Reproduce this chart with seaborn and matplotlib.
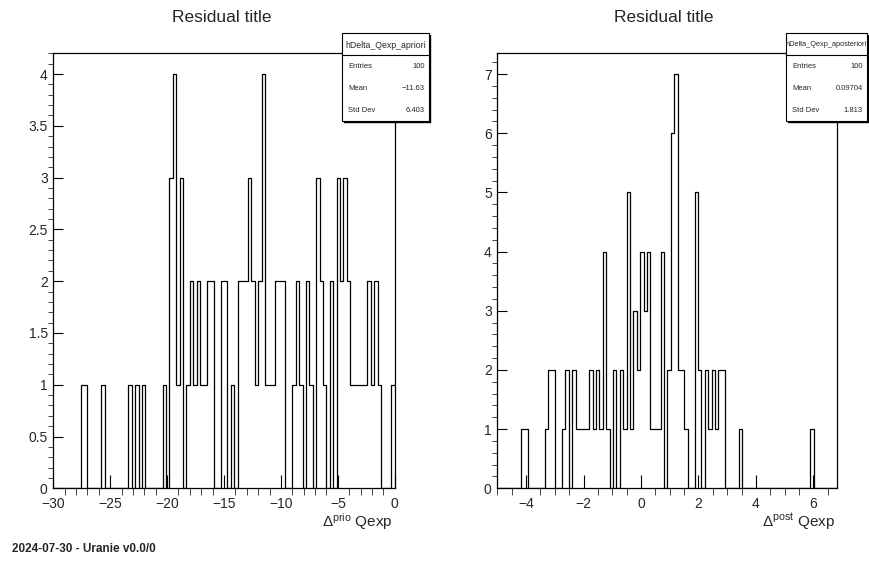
import numpy as np
import pandas as pd
import matplotlib
matplotlib.use("Agg")
import matplotlib.pyplot as plt
import seaborn as sns
from matplotlib.patches import Rectangle
from matplotlib.lines import Line2D
from matplotlib.ticker import MultipleLocator, FuncFormatter

# -------------------------------
# Data (100 bins per histogram, counts)
# -------------------------------
n_bins = 100
prio_range = (-30.0, 0.0)
post_range = (-5.0, 6.83)

prio_counts = [0, 0, 0, 0, 0, 0, 0, 0, 1, 1,
               0, 0, 0, 0, 1, 0, 0, 0, 0, 0,
               0, 0, 1, 0, 1, 0, 1, 0, 0, 0,
               0, 0, 1, 0, 3, 4, 1, 3, 0, 1,
               2, 1, 2, 1, 1, 2, 2, 0, 0, 2,
               2, 0, 1, 0, 2, 2, 2, 3, 2, 1,
               2, 4, 1, 1, 1, 2, 2, 2, 0, 0,
               1, 2, 1, 0, 2, 1, 0, 3, 2, 1,
               0, 2, 0, 3, 2, 3, 2, 1, 1, 1,
               1, 1, 2, 1, 2, 1, 0, 0, 0, 1]

post_counts = [0, 0, 0, 0, 0, 0, 0, 1, 1, 0,
               0, 0, 0, 0, 1, 2, 2, 0, 0, 1,
               2, 0, 2, 1, 1, 1, 1, 2, 1, 2,
               1, 4, 1, 0, 2, 0, 2, 1, 5, 1,
               3, 2, 4, 3, 4, 1, 1, 1, 4, 0,
               2, 6, 7, 2, 2, 1, 0, 0, 5, 2,
               0, 2, 1, 2, 1, 2, 2, 0, 0, 0,
               0, 1, 0, 0, 0, 0, 0, 0, 0, 0,
               0, 0, 0, 0, 0, 0, 0, 0, 0, 0,
               0, 0, 1, 0, 0, 0, 0, 0, 0, 0]

prio_name = "hDelta_Qexp_apriori"
post_name = "hDelta_Qexp_aposteriori"
stat_labels = ["Entries", "Mean", "Std Dev"]
prio_stats = ["100", "\u221211.63", "6.403"]
post_stats = ["100", "0.09704", "1.813"]

# -------------------------------
# Style
# -------------------------------
sns.set_style("ticks")
plt.rcParams["font.family"] = ["Liberation Sans", "DejaVu Sans"]
plt.rcParams["axes.linewidth"] = 0.9

W, H = 869, 563
fig = plt.figure(figsize=(W / 100, H / 100), dpi=100)


def fx(px):
    return px / W


def fy(py):
    return 1 - py / H


def fmt(v, pos):
    return f"{v:g}".replace("-", "\u2212")


def draw_hist(rect, counts, xr, ytop, xmaj, xmin_, ymaj, ymin_):
    x0, x1, y0, y1 = rect
    ax = fig.add_axes([fx(x0), fy(y1), fx(x1) - fx(x0), fy(y0) - fy(y1)])
    width = (xr[1] - xr[0]) / n_bins
    centers = xr[0] + width * (np.arange(n_bins) + 0.5)
    df = pd.DataFrame({"x": centers, "n": counts})
    sns.histplot(data=df, x="x", weights="n", bins=n_bins, binrange=xr,
                 element="step", fill=False, color="black", linewidth=0.9, ax=ax)
    ax.set_xlim(*xr)
    ax.set_ylim(0, ytop)
    ax.set_xlabel("")
    ax.set_ylabel("")
    ax.xaxis.set_major_locator(MultipleLocator(xmaj))
    ax.xaxis.set_minor_locator(MultipleLocator(xmin_))
    ax.yaxis.set_major_locator(MultipleLocator(ymaj))
    ax.yaxis.set_minor_locator(MultipleLocator(ymin_))
    ax.xaxis.set_major_formatter(FuncFormatter(fmt))
    ax.yaxis.set_major_formatter(FuncFormatter(fmt))
    ax.tick_params(direction="in", top=False, right=False, labelsize=10,
                   color="black", width=0.8)
    ax.xaxis.set_tick_params(which="major", length=9.4, pad=6)
    ax.xaxis.set_tick_params(which="minor", length=4.7)
    ax.yaxis.set_tick_params(which="major", length=7.2, pad=4)
    ax.yaxis.set_tick_params(which="minor", length=3.6)
    for s in ax.spines.values():
        s.set_color("black")
    return ax


def stats_box(x0, x1, y0, y1, name, vals, name_size):
    fig.add_artist(Rectangle((fx(x0), fy(y1)), fx(x1) - fx(x0), fy(y0) - fy(y1),
                             transform=fig.transFigure, facecolor="white",
                             edgecolor="black", lw=0.8, zorder=5))
    # shadow on right and bottom
    fig.add_artist(Line2D([fx(x1 + 1), fx(x1 + 1)], [fy(y0 + 2), fy(y1 + 1)],
                          transform=fig.transFigure, color="black", lw=1.0, zorder=6))
    fig.add_artist(Line2D([fx(x0 + 2), fx(x1 + 1)], [fy(y1 + 1), fy(y1 + 1)],
                          transform=fig.transFigure, color="black", lw=1.0, zorder=6))
    fig.add_artist(Line2D([fx(x0), fx(x1)], [fy(y0 + 22), fy(y0 + 22)],
                          transform=fig.transFigure, color="black", lw=0.8, zorder=6))
    fig.text(fx((x0 + x1) / 2), fy(y0 + 12), name, ha="center", va="center",
             fontsize=name_size, zorder=7)
    for i, (lab, v) in enumerate(zip(stat_labels, vals)):
        yy = y0 + 33 + 22 * i
        fig.text(fx(x0 + 6), fy(yy), lab, ha="left", va="center", fontsize=5.5, zorder=7)
        fig.text(fx(x1 - 4), fy(yy), v, ha="right", va="center", fontsize=5.5, zorder=7)


# -------------------------------
# Left: a priori residuals
# -------------------------------
draw_hist((53.3, 394.7, 53.3, 488.3), prio_counts, prio_range, 4.2, 5, 1, 0.5, 0.1)
fig.text(fx(222), fy(18), "Residual title", ha="center", va="center", fontsize=12.5)
fig.text(fx(393), fy(522), r"$\mathregular{\Delta^{prio}}$ Qexp", ha="right",
         va="center", fontsize=11)
stats_box(342, 429, 33, 121, prio_name, prio_stats, 6.3)

# -------------------------------
# Right: a posteriori residuals
# -------------------------------
draw_hist((497.3, 837.3, 53.3, 488.3), post_counts, post_range, 7.35, 2, 0.5, 1, 0.2)
fig.text(fx(664), fy(18), "Residual title", ha="center", va="center", fontsize=12.5)
fig.text(fx(835), fy(522), r"$\mathregular{\Delta^{post}}$ Qexp", ha="right",
         va="center", fontsize=11)
stats_box(786, 867, 33, 121, post_name, post_stats, 5.3)

fig.text(fx(12), fy(549), "2024-07-30 - Uranie v0.0/0", ha="left", va="center",
         fontsize=8.5, fontweight="bold")

fig.savefig("out.png", dpi=100)
